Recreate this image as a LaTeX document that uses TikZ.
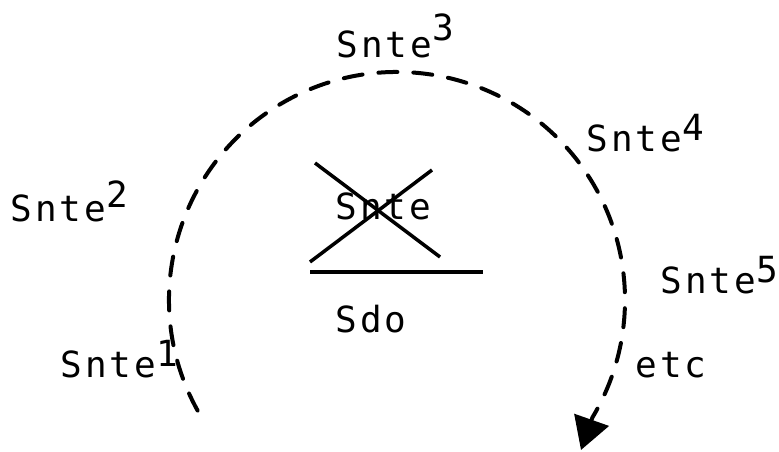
\documentclass[tikz,border=0pt]{standalone}
\usepackage{fontspec}
\newfontfamily\printfont[LetterSpace=9]{DejaVu Sans Mono}
\usetikzlibrary{arrows.meta}
\newcommand{\upidx}[2][13pt]{\raisebox{#1}{#2}}
\tikzset{
  mk/label/.style={font=\printfont\fontsize{36}{40}\selectfont, inner sep=0pt, anchor=base west},
  mk/path/.style={line width=4pt, line cap=round, dash pattern=on 19pt off 16pt, -{Triangle[length=32pt,width=36pt]}},
  mk/strike/.style={line width=3.5pt}
}

\begin{document}
\begin{tikzpicture}[x=1pt,y=1pt]
  \useasboundingbox (0,0) rectangle (779,452);
  % labels round the path
  \node[mk/label] (s1) at (60,74) {Snte\upidx[11pt]{1}};
  \node[mk/label] (s2) at (10,230) {Snte\upidx[14pt]{2}};
  \node[mk/label] (s3) at (336,394) {Snte\upidx[17pt]{3}};
  \node[mk/label] (s4) at (586,300) {Snte\upidx[11pt]{4}};
  \node[mk/label] (s5) at (660,158) {Snte\upidx[11pt]{5}};
  \node[mk/label] (etc) at (635,74) {etc};

  % the crossed-out one
  \node[mk/label] (sx) at (335,232) {Snte};
  \draw[mk/strike] (315,289) -- (440,195);
  \draw[mk/strike] (310,190) -- (432,282);
  \draw[mk/strike] (310,180) -- (483,180);
  \node[mk/label] (sdo) at (335,119) {Sdo};

  % dashed path with arrow
  \coordinate (ctr) at (397,152);
  \coordinate (tip) at (581,2);
  \draw[mk/path] (ctr) ++(209:228) arc[start angle=209, end angle=-31, radius=228] -- (tip);
\end{tikzpicture}
\end{document}
